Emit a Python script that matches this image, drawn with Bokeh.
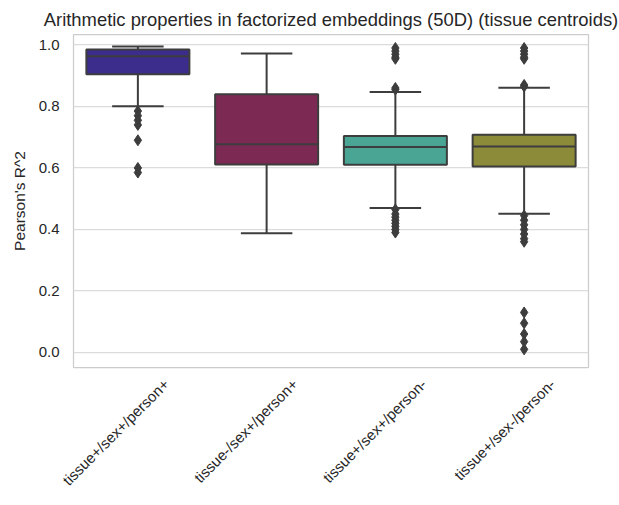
import math
from bokeh.plotting import figure
from bokeh.models import (Range1d, ColumnDataSource, FixedTicker,
                          PrintfTickFormatter, CustomJSTickFormatter)
from bokeh.embed import file_html
from bokeh.resources import INLINE

categories = ["tissue+/sex+/person+", "tissue-/sex+/person+",
              "tissue+/sex+/person-", "tissue+/sex-/person-"]
q1 = [0.905, 0.611, 0.610, 0.605]
median = [0.963, 0.677, 0.668, 0.670]
q3 = [0.985, 0.840, 0.704, 0.708]
whisker_low = [0.801, 0.388, 0.470, 0.451]
whisker_high = [0.995, 0.972, 0.847, 0.861]
colors = ["#3c2d8c", "#7c2a54", "#4aa594", "#8c8b3a"]

outliers_1 = [0.785, 0.77, 0.755, 0.74, 0.69, 0.60, 0.585]
outliers_2 = []
outliers_3 = [0.99, 0.98, 0.97, 0.96, 0.955, 0.86, 0.855,
              0.465, 0.45, 0.44, 0.43, 0.42, 0.41, 0.40, 0.39]
outliers_4 = [0.99, 0.98, 0.97, 0.96, 0.955, 0.87, 0.865,
              0.445, 0.43, 0.415, 0.40, 0.385, 0.37, 0.36,
              0.13, 0.095, 0.06, 0.035, 0.01]
y_ticks = [0.0, 0.2, 0.4, 0.6, 0.8, 1.0]

FONT = "Liberation Sans"
EDGE = "#3d3d3d"
TXT = "#262626"

pos = [i + 0.5 for i in range(len(categories))]
LABEL_SHIFT = 0.22  # rotated labels sit a little right of the box centres

p = figure(width=619, height=505, output_backend="svg", toolbar_location=None,
           x_range=Range1d(0, len(categories)),
           y_range=Range1d(-0.049, 1.034),
           title="Arithmetic properties in factorized embeddings (50D) (tissue centroids)",
           min_border_left=73, min_border_right=31, min_border_top=34,
           min_border_bottom=138)

p.title.text_font = FONT
p.title.text_font_size = "18.4px"
p.title.text_font_style = "normal"
p.title.text_color = TXT
p.title.align = "center"

p.outline_line_color = "#cccccc"
p.outline_line_width = 1.25
p.xgrid.grid_line_color = None
p.ygrid.grid_line_color = "#dcdcdc"
p.ygrid.grid_line_width = 1.25
p.yaxis.ticker = FixedTicker(ticks=y_ticks)
p.yaxis.formatter = PrintfTickFormatter(format="%.1f")
p.xaxis.ticker = FixedTicker(ticks=[v + LABEL_SHIFT for v in pos])
p.xaxis.formatter = CustomJSTickFormatter(args=dict(cats=categories),
                                          code="return cats[Math.floor(tick)];")

for ax in (p.xaxis, p.yaxis):
    ax.axis_line_color = None
    ax.major_tick_line_color = None
    ax.minor_tick_line_color = None
    ax.major_tick_out = 0
    ax.major_tick_in = 0
    ax.major_label_text_font = FONT
    ax.major_label_text_font_size = "15px"
    ax.major_label_text_color = TXT
p.yaxis.major_label_standoff = 14
p.xaxis.major_label_standoff = 14
p.xaxis.major_label_orientation = math.pi / 4
p.yaxis.axis_label = "Pearson's R^2"
p.yaxis.axis_label_text_font = FONT
p.yaxis.axis_label_text_font_size = "15.5px"
p.yaxis.axis_label_text_font_style = "normal"
p.yaxis.axis_label_text_color = TXT
p.yaxis.axis_label_standoff = 8

src = ColumnDataSource(dict(x=pos, q1=q1, med=median, q3=q3,
                            lo=whisker_low, hi=whisker_high, color=colors,
                            xl4=[v - 0.4 for v in pos], xr4=[v + 0.4 for v in pos],
                            xl2=[v - 0.2 for v in pos], xr2=[v + 0.2 for v in pos]))

# whiskers
p.segment(x0="x", x1="x", y0="q3", y1="hi", source=src, line_color=EDGE, line_width=2)
p.segment(x0="x", x1="x", y0="lo", y1="q1", source=src, line_color=EDGE, line_width=2)
# caps
p.segment(x0="xl2", x1="xr2", y0="hi", y1="hi", source=src, line_color=EDGE, line_width=2)
p.segment(x0="xl2", x1="xr2", y0="lo", y1="lo", source=src, line_color=EDGE, line_width=2)
# boxes
p.vbar(x="x", top="q3", bottom="q1", width=0.8, source=src,
       fill_color="color", line_color=EDGE, line_width=2)
# medians
p.segment(x0="xl4", x1="xr4", y0="med", y1="med", source=src, line_color=EDGE, line_width=2)

# outliers
ox, oy = [], []
for xp, vals in zip(pos, [outliers_1, outliers_2, outliers_3, outliers_4]):
    ox += [xp] * len(vals)
    oy += vals
p.scatter(x=ox, y=oy, marker="diamond", size=11, fill_color=EDGE, line_color=EDGE)

open("out.html", "w").write(file_html(p, INLINE))
